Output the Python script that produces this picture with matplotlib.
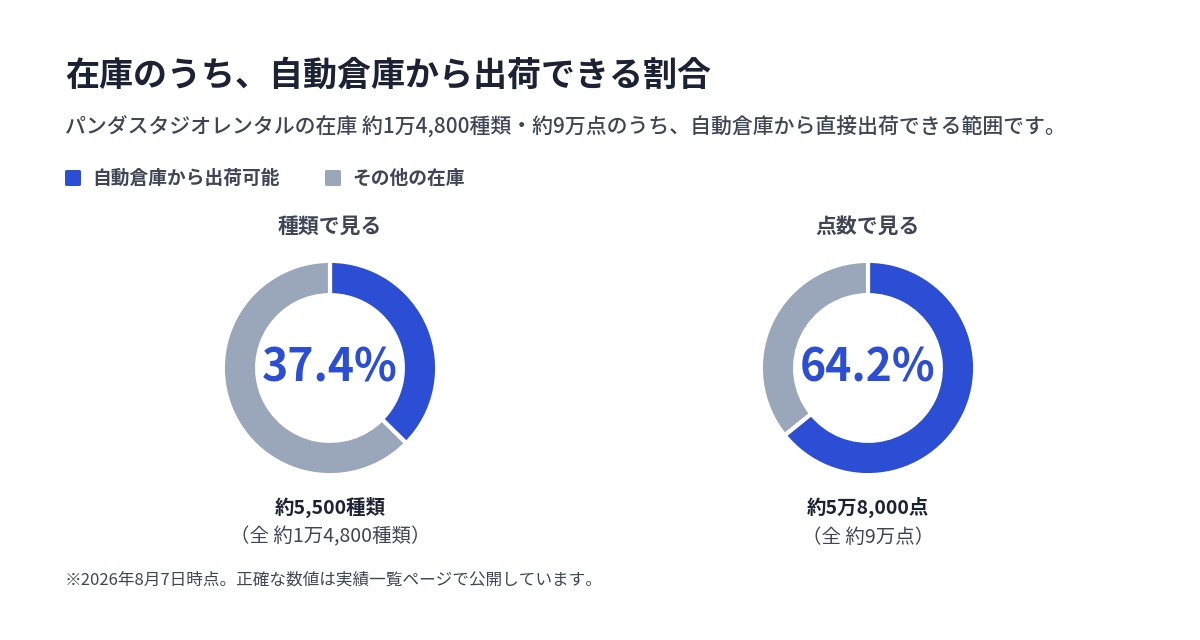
import matplotlib
matplotlib.use("Agg")
import matplotlib.pyplot as plt

plt.rcParams['font.family'] = ['Noto Sans CJK JP', 'DejaVu Sans']

title = "在庫のうち、自動倉庫から出荷できる割合"
subtitle = "パンダスタジオレンタルの在庫 約1万4,800種類・約9万点のうち、自動倉庫から直接出荷できる範囲です。"
legend_labels = ["自動倉庫から出荷可能", "その他の在庫"]
chart_titles = ["種類で見る", "点数で見る"]
shares = [37.4, 64.2]
center_labels = ["37.4%", "64.2%"]
bottom_main = ["約5,500種類", "約5万8,000点"]
bottom_sub = ["（全 約1万4,800種類）", "（全 約9万点）"]
footnote = "※2026年8月7日時点。正確な数値は実績一覧ページで公開しています。"

BLUE = "#2B4ED4"
GRAY = "#9AA6B9"
DARK = "#1B2233"
MID = "#3E4656"

W, H = 1200, 640
fig = plt.figure(figsize=(12, 6.4), dpi=100)
fig.patch.set_facecolor("white")

def fx(x): return x / W
def fy(y): return 1 - y / H

fig.text(fx(65), fy(75), title, fontsize=24.5, fontweight="bold", color=DARK, va="center", ha="left")
fig.text(fx(65), fy(127), subtitle, fontsize=15, fontweight="medium", color=MID, va="center", ha="left")

for i, (lab, col, x) in enumerate(zip(legend_labels, [BLUE, GRAY], [65, 325])):
    fig.patches.append(matplotlib.patches.FancyBboxPatch(
        (fx(x), fy(186)), fx(16), 16 / H, boxstyle="round,pad=0,rounding_size=0.002",
        transform=fig.transFigure, facecolor=col, edgecolor="none"))
    fig.text(fx(x + 27), fy(178), lab, fontsize=13.5, fontweight="bold", color=MID, va="center", ha="left")

for cx, ct, s, cl, bm, bs in zip([330, 868], chart_titles, shares, center_labels, bottom_main, bottom_sub):
    size = 240
    ax = fig.add_axes([fx(cx - size / 2), fy(368 + size / 2), size / W, size / H])
    ax.pie([s, 100 - s], colors=[BLUE, GRAY], startangle=90, counterclock=False,
           radius=1, wedgeprops=dict(width=0.32, edgecolor="white", linewidth=3))
    ax.set_xlim(-1.12, 1.12); ax.set_ylim(-1.12, 1.12)
    ax.set_aspect("equal"); ax.axis("off")
    ax.text(0, 0, cl, fontsize=32, fontweight="bold", color=BLUE, ha="center", va="center")
    fig.text(fx(cx), fy(226), ct, fontsize=15, fontweight="bold", color=MID, ha="center", va="center")
    fig.text(fx(cx), fy(507), bm, fontsize=14, fontweight="bold", color=DARK, ha="center", va="center")
    fig.text(fx(cx), fy(537), bs, fontsize=14, color=MID, ha="center", va="center")

fig.text(fx(65), fy(580), footnote, fontsize=12, color=MID, ha="left", va="center")

fig.savefig("out.png", dpi=100, facecolor="white")
